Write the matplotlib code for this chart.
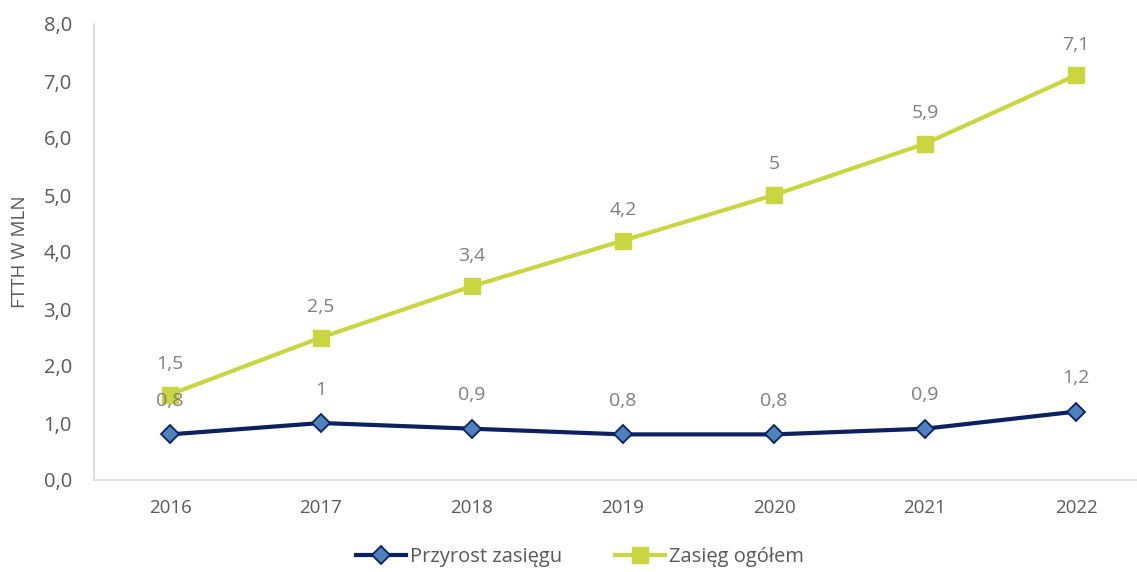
import matplotlib
matplotlib.use("Agg")
import matplotlib.pyplot as plt
from matplotlib.ticker import FuncFormatter

plt.rcParams['font.family'] = ['Open Sans', 'DejaVu Sans']

years = ["2016", "2017", "2018", "2019", "2020", "2021", "2022"]
przyrost = [0.8, 1.0, 0.9, 0.8, 0.8, 0.9, 1.2]
przyrost_labels = ["0,8", "1", "0,9", "0,8", "0,8", "0,9", "1,2"]
zasieg = [1.5, 2.5, 3.4, 4.2, 5.0, 5.9, 7.1]
zasieg_labels = ["1,5", "2,5", "3,4", "4,2", "5", "5,9", "7,1"]

W, H = 1137, 572
fig = plt.figure(figsize=(W / 100, H / 100), dpi=100)
left, right, top, bottom = 94, 1137, 24, 480
ax = fig.add_axes([left / W, 1 - bottom / H, (right - left) / W, (bottom - top) / H])

x = list(range(len(years)))
navy = "#0B2160"
green = "#C9D63F"

ax.plot(x, przyrost, color=navy, lw=3, marker="D", ms=9.5,
        mfc="#4F81BD", mec=navy, mew=1.3, label="Przyrost zasięgu", zorder=3)
ax.plot(x, zasieg, color=green, lw=3, marker="s", ms=12,
        mfc=green, mec=green, label="Zasięg ogółem", zorder=3)

lab_col = "#7F7F7F"
for xi, v, t in zip(x, zasieg, zasieg_labels):
    ax.annotate(t, (xi, v), xytext=(0, 22), textcoords="offset points",
                ha="center", va="center", fontsize=14, color=lab_col, zorder=4)
for xi, v, t in zip(x, przyrost, przyrost_labels):
    ax.annotate(t, (xi, v), xytext=(0, 24), textcoords="offset points",
                ha="center", va="center", fontsize=14, color=lab_col, zorder=4)

ax.set_ylim(0, 8)
px_per_cat = 151
ax.set_xlim(-(170 - left) / px_per_cat, (right - 170) / px_per_cat)
ax.set_yticks([0, 1, 2, 3, 4, 5, 6, 7, 8])
ax.yaxis.set_major_formatter(FuncFormatter(lambda v, p: f"{v:.1f}".replace(".", ",")))
ax.set_xticks(x)
ax.set_xticklabels(years)

for s in ["top", "right"]:
    ax.spines[s].set_visible(False)
for s in ["left", "bottom"]:
    ax.spines[s].set_color("#D9D9D9")
    ax.spines[s].set_linewidth(1.2)

ax.tick_params(axis="y", length=0, pad=16, labelsize=14.5, labelcolor="#595959")
ax.tick_params(axis="x", length=0, pad=14, labelsize=13.5, labelcolor="#595959")
for lbl in ax.get_xticklabels():
    lbl.set_fontstretch("expanded")

ax.set_ylabel("FTTH W MLN", fontsize=13.5, color="#595959")
ax.yaxis.set_label_coords(-(94 - 29) / (right - left), 0.5)

leg = fig.legend(loc="center", bbox_to_anchor=(580 / W, 1 - 557 / H), ncol=2,
                 frameon=False, fontsize=14.5, handlelength=2.5, columnspacing=2.6,
                 handletextpad=0.2)
for t in leg.get_texts():
    t.set_color("#595959")

fig.savefig("out.png", dpi=100)
